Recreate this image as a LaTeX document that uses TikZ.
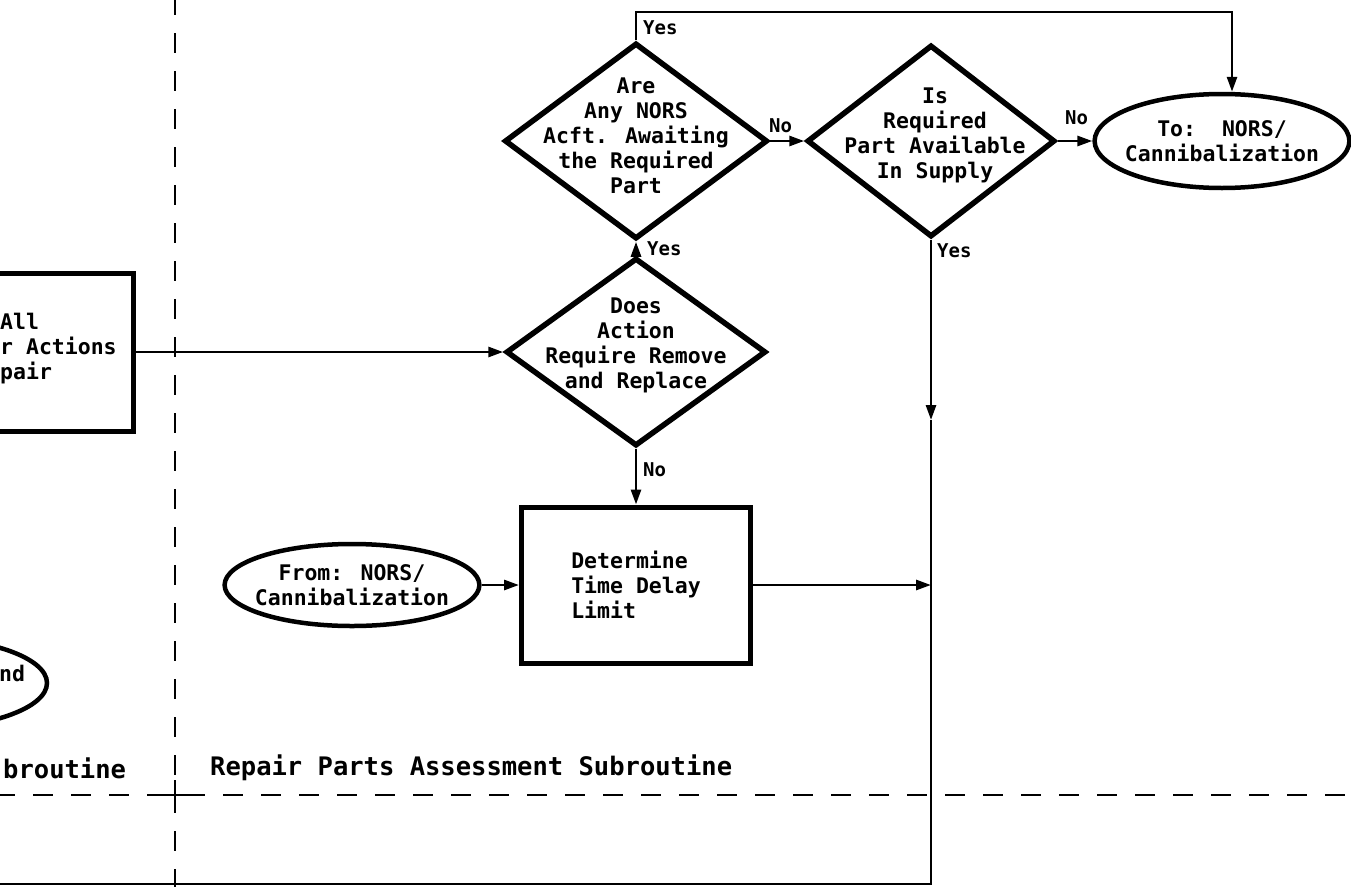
\documentclass[tikz,border=0pt]{standalone}
\usepackage{fontspec}
\newfontfamily\typefont{DejaVu Sans Mono}
\usetikzlibrary{shapes.geometric,arrows.meta}

\tikzset{
    decision/.style={diamond, draw, line width=5.5pt, inner sep=0pt},
    process/.style={rectangle, draw, line width=5pt, inner sep=0pt},
    terminal/.style={ellipse, draw, line width=4.5pt, inner sep=-7pt},
    flow/.style={line width=2.8pt, -{Triangle[length=15pt,width=10pt]}},
    link/.style={line width=2.8pt},
    border/.style={line width=2.5pt, dash pattern=on 20pt off 18pt},
    qtext/.style={align=center, inner sep=0pt, font=\typefont\bfseries\fontsize{21.5}{25}\selectfont},
    tag/.style={anchor=west, inner sep=0pt, font=\typefont\bfseries\fontsize{19}{20}\selectfont},
    title/.style={anchor=west, inner sep=0pt, font=\typefont\bfseries\fontsize{25.5}{28}\selectfont}
}

\begin{document}
\begin{tikzpicture}[x=1pt, y=-1pt]

    % page frame, everything outside is cut away
    \useasboundingbox (0,0) rectangle (1351,886);
    \clip (0,0) rectangle (1351,886);

    % subroutine borders
    \coordinate (vtop) at (175,-5);
    \coordinate (vbot) at (175,891);
    \coordinate (hleft) at (-5,795);
    \coordinate (hright) at (1356,795);
    \draw[border] (vtop) -- (vbot);
    \draw[border] (hleft) -- (hright);
    \coordinate (cross) at (175,795);
    \draw[link] ([xshift=-15pt]cross) -- ([xshift=12pt]cross)
                ([yshift=-13pt]cross) -- ([yshift=15pt]cross);

    % left subroutine (only its right edge shows)
    \node[process, minimum width=226pt, minimum height=158pt] (assess) at (20,352) {};
    \node[qtext, anchor=west, align=left] (assess-t) at (0,349) {All\\r Actions\\pair};
    \node[terminal, minimum width=264pt, minimum height=92pt] (endsub) at (-85,683) {};
    \node[qtext, anchor=west] (endsub-t) at (-1,673) {nd};
    \node[title] (leftname) at (3,768) {broutine};

    % repair parts assessment
    \node[title] (rightname) at (210,768) {Repair Parts Assessment Subroutine};

    \node[decision, minimum width=260pt, minimum height=188pt] (remove) at (636,352) {};
    \node[qtext] (remove-t) at (636,345) {Does\\Action\\Require Remove\\and Replace};

    \node[decision, minimum width=263pt, minimum height=196pt] (nors) at (636,141) {};
    \node[qtext] (nors-t) at (636,136) {Are\\Any NORS\\Acft. Awaiting\\the Required\\Part};

    \node[decision, minimum width=248pt, minimum height=192pt] (supply) at (931,141) {};
    \node[qtext] (supply-t) at (935,135) {Is\\Required\\Part Available\\In Supply};

    \node[terminal, qtext, inner sep=-7pt, minimum width=250pt, minimum height=94pt] (tonors) at (1222,141)
        {To:~~NORS/\\Cannibalization};

    \node[process, qtext, align=left, minimum width=229pt, minimum height=156pt] (delay) at (636,585)
        {Determine\\Time Delay\\Limit};

    \node[terminal, qtext, inner sep=-7pt, minimum height=82pt] (fromnors) at (352,585)
        {From: NORS/\\Cannibalization};

    % connectors
    \draw[flow] (assess.east) -- (remove.west);
    \draw[flow] (remove.north) -- (nors.south);
    \draw[flow] (remove.south) -- (delay.north);
    \draw[flow] (nors.east) -- (supply.west);
    \draw[flow] (supply.east) -- (tonors.west);
    \draw[flow] (fromnors.east) -- (delay.west);

    \coordinate (top) at (1232,12);
    \draw[flow] (nors.north) |- (top) -- (top |- tonors.north);

    \coordinate (mid) at (931,420);
    \coordinate (merge) at (931,585);
    \coordinate (corner) at (931,884);
    \coordinate (exit) at (-5,884);
    \draw[flow] (supply.south) -- (mid);
    \draw[link] (mid) -- (corner) -- (exit);
    \draw[flow] (delay.east) -- (merge);

    % branch labels
    \node[tag] (yes1) at (643,28) {Yes};
    \node[tag] (no1) at (769,126) {No};
    \node[tag] (yes2) at (647,249) {Yes};
    \node[tag] (no2) at (643,470) {No};
    \node[tag] (yes3) at (937,251) {Yes};
    \node[tag] (no3) at (1065,118) {No};

\end{tikzpicture}
\end{document}
